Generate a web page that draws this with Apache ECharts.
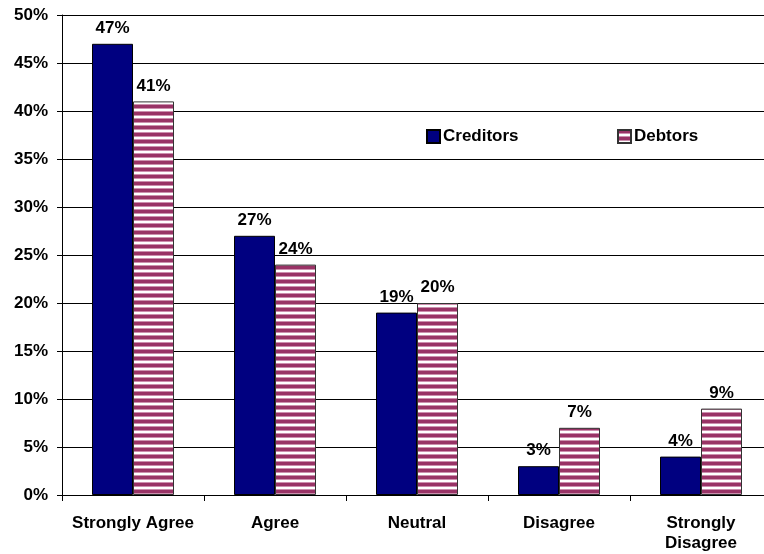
<!DOCTYPE html>
<html>
<head>
<meta charset="utf-8">
<script src="https://cdn.jsdelivr.net/npm/echarts@6/dist/echarts.min.js"></script>
<style>
  html, body { margin: 0; padding: 0; background: #fff; overflow: hidden; width: 764px; height: 554px; }
  /* plot area runs slightly past the right edge of the window */
  #chart { width: 772px; height: 554px; }
</style>
</head>
<body>
<div id="chart"></div>
<script>
// Survey responses by group (share of respondents)
const categories = ['Strongly Agree', 'Agree', 'Neutral', 'Disagree', 'Strongly\nDisagree'];
const creditors = [47, 27, 19, 3, 4];
const debtors = [41, 24, 20, 7, 9];
const seriesNames = ['Creditors', 'Debtors'];

// Horizontal stripe fill for the second series
function stripePattern() {
  const c = document.createElement('canvas');
  c.width = 8;
  c.height = 7;
  const g = c.getContext('2d');
  g.fillStyle = '#ffffff';
  g.fillRect(0, 0, 8, 7);
  g.fillStyle = '#993366';
  g.fillRect(0, 0, 8, 3);
  g.fillStyle = '#cc8fae';
  g.fillRect(0, 3, 8, 1);
  g.fillRect(0, 6, 8, 1);
  return c;
}
const stripe = { image: stripePattern(), repeat: 'repeat' };

const font = { fontFamily: 'Liberation Sans, Arial, sans-serif', fontWeight: 'bold', fontSize: 17, color: '#000' };

const chart = echarts.init(document.getElementById('chart'), null, { renderer: 'canvas' });
chart.setOption({
  animation: false,
  backgroundColor: '#fff',
  grid: { left: 62, top: 15, right: 0, height: 480, containLabel: false },
  legend: [
    {
      data: [seriesNames[0]], left: 426, top: 128, padding: 0, itemWidth: 13, itemHeight: 13, itemGap: 4,
      icon: 'rect', textStyle: Object.assign({}, font, { padding: [0, 0, 0, -2] })
    },
    {
      data: [seriesNames[1]], left: 617, top: 128, padding: 0, itemWidth: 13, itemHeight: 13, itemGap: 4,
      icon: 'rect', textStyle: Object.assign({}, font, { padding: [0, 0, 0, -2] })
    }
  ],
  xAxis: {
    type: 'category',
    data: categories,
    axisLine: { lineStyle: { color: '#000', width: 1 } },
    axisTick: { show: true, alignWithLabel: false, length: 6, lineStyle: { color: '#000' } },
    axisLabel: Object.assign({}, font, { margin: 18, lineHeight: 20, interval: 0 })
  },
  yAxis: {
    type: 'value',
    min: 0, max: 50, interval: 5,
    axisLine: { show: true, lineStyle: { color: '#000', width: 1 } },
    axisTick: { show: true, length: 5, lineStyle: { color: '#000' } },
    splitLine: { show: true, lineStyle: { color: '#000', width: 1 } },
    axisLabel: Object.assign({}, font, { margin: 14, formatter: v => v + '%' })
  },
  series: [
    {
      name: seriesNames[0],
      type: 'bar',
      data: creditors,
      barWidth: 41,
      barGap: '0%',
      itemStyle: { color: '#000080', borderColor: '#000', borderWidth: 1 },
      label: Object.assign({}, font, { show: true, position: 'top', distance: 7, formatter: p => p.value + '%' })
    },
    {
      name: seriesNames[1],
      type: 'bar',
      data: debtors,
      barWidth: 41,
      barGap: '0%',
      itemStyle: { color: stripe, borderColor: '#333', borderWidth: 1 },
      label: Object.assign({}, font, { show: true, position: 'top', distance: 7, formatter: p => p.value + '%' })
    }
  ]
});
</script>
</body>
</html>
